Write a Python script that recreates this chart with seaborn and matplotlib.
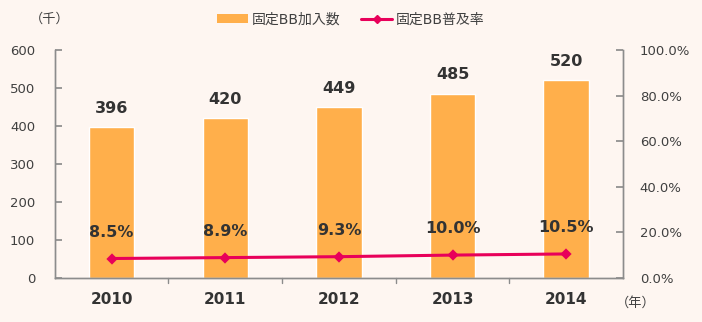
import matplotlib
matplotlib.use("Agg")
import matplotlib.pyplot as plt
import seaborn as sns
import pandas as pd
from matplotlib.lines import Line2D
from matplotlib.patches import Patch

years = ["2010", "2011", "2012", "2013", "2014"]
subscribers = [396, 420, 449, 485, 520]
penetration = [8.5, 8.9, 9.3, 10.0, 10.5]
bar_name = "固定BB加入数"
line_name = "固定BB普及率"

sns.set_theme(style="white")
plt.rcParams["font.family"] = ["DejaVu Sans", "Noto Sans CJK JP"]

bg = "#FEF6F1"
bar_color = "#FFAF4B"
line_color = "#E8005A"
text_color = "#404040"
spine_color = "#8C8C8C"

df = pd.DataFrame({"year": years, "subs": subscribers, "pen": penetration})

fig = plt.figure(figsize=(7.02, 3.22), dpi=100, facecolor=bg)
ax = fig.add_axes([0.078, 0.137, 0.8095, 0.708])
ax.set_facecolor(bg)

sns.barplot(data=df, x="year", y="subs", color=bar_color, width=0.4,
            saturation=1, ax=ax)
ax.set_ylim(0, 600)
ax.set_yticks(range(0, 601, 100))
ax.set_xlabel("")
ax.set_ylabel("")

ax2 = ax.twinx()
sns.pointplot(data=df, x="year", y="pen", color=line_color, markers="D",
              markersize=4.5, linewidth=2.2, ax=ax2)
ax2.set_ylim(0, 100)
ax2.set_yticks(range(0, 101, 20))
ax2.set_yticklabels([f"{v:.1f}%" for v in range(0, 101, 20)])
ax2.set_ylabel("")
ax2.set_xlim(-0.5, 4.5)

for a in (ax, ax2):
    a.spines["top"].set_visible(False)
    for s in ("left", "right", "bottom"):
        a.spines[s].set_color(spine_color)
        a.spines[s].set_linewidth(1.0)

ax.tick_params(axis="y", direction="in", length=5, color=spine_color,
               labelsize=9.5, labelcolor=text_color, pad=14)
ax2.tick_params(axis="y", direction="in", length=5, color=spine_color,
                labelsize=9.5, labelcolor=text_color, pad=12)
ax.set_xticks([i for i in range(5)])
ax.set_xticklabels(years, fontsize=11, fontweight="bold", color="#333333")
ax.tick_params(axis="x", length=0, pad=10)
for xb in [0.5, 1.5, 2.5, 3.5]:
    ax.plot([xb, xb], [0, -0.022], transform=ax.get_xaxis_transform(),
            color=spine_color, lw=1.0, clip_on=False)
ax.set_xlim(-0.5, 4.5)

for i, v in enumerate(subscribers):
    ax.annotate(f"{v}", (i, v), xytext=(0, 8), textcoords="offset points",
                ha="center", va="bottom", fontsize=11.5, fontweight="bold",
                color="#333333")
for i, v in enumerate(penetration):
    ax2.annotate(f"{v:.1f}%", (i, v), xytext=(0, 19), textcoords="offset points",
                 ha="center", va="center", fontsize=11.5, fontweight="bold",
                 color="#333333")

fig.text(0.071, 0.94, "（千）", ha="center", va="center", fontsize=9.5, color=text_color)
fig.text(0.905, 0.058, "（年）", ha="center", va="center", fontsize=9.5, color=text_color)

handles = [Patch(facecolor=bar_color, edgecolor="none"),
           Line2D([0], [0], color=line_color, lw=2.2, marker="D", markersize=4.5)]
fig.legend(handles, [bar_name, line_name], loc="center", bbox_to_anchor=(0.5, 0.94),
           ncol=2, frameon=False, fontsize=10, handlelength=2.2, handleheight=0.6,
           columnspacing=1.5, handletextpad=0.3, labelcolor=text_color)

fig.savefig("out.png", dpi=100, facecolor=bg)
